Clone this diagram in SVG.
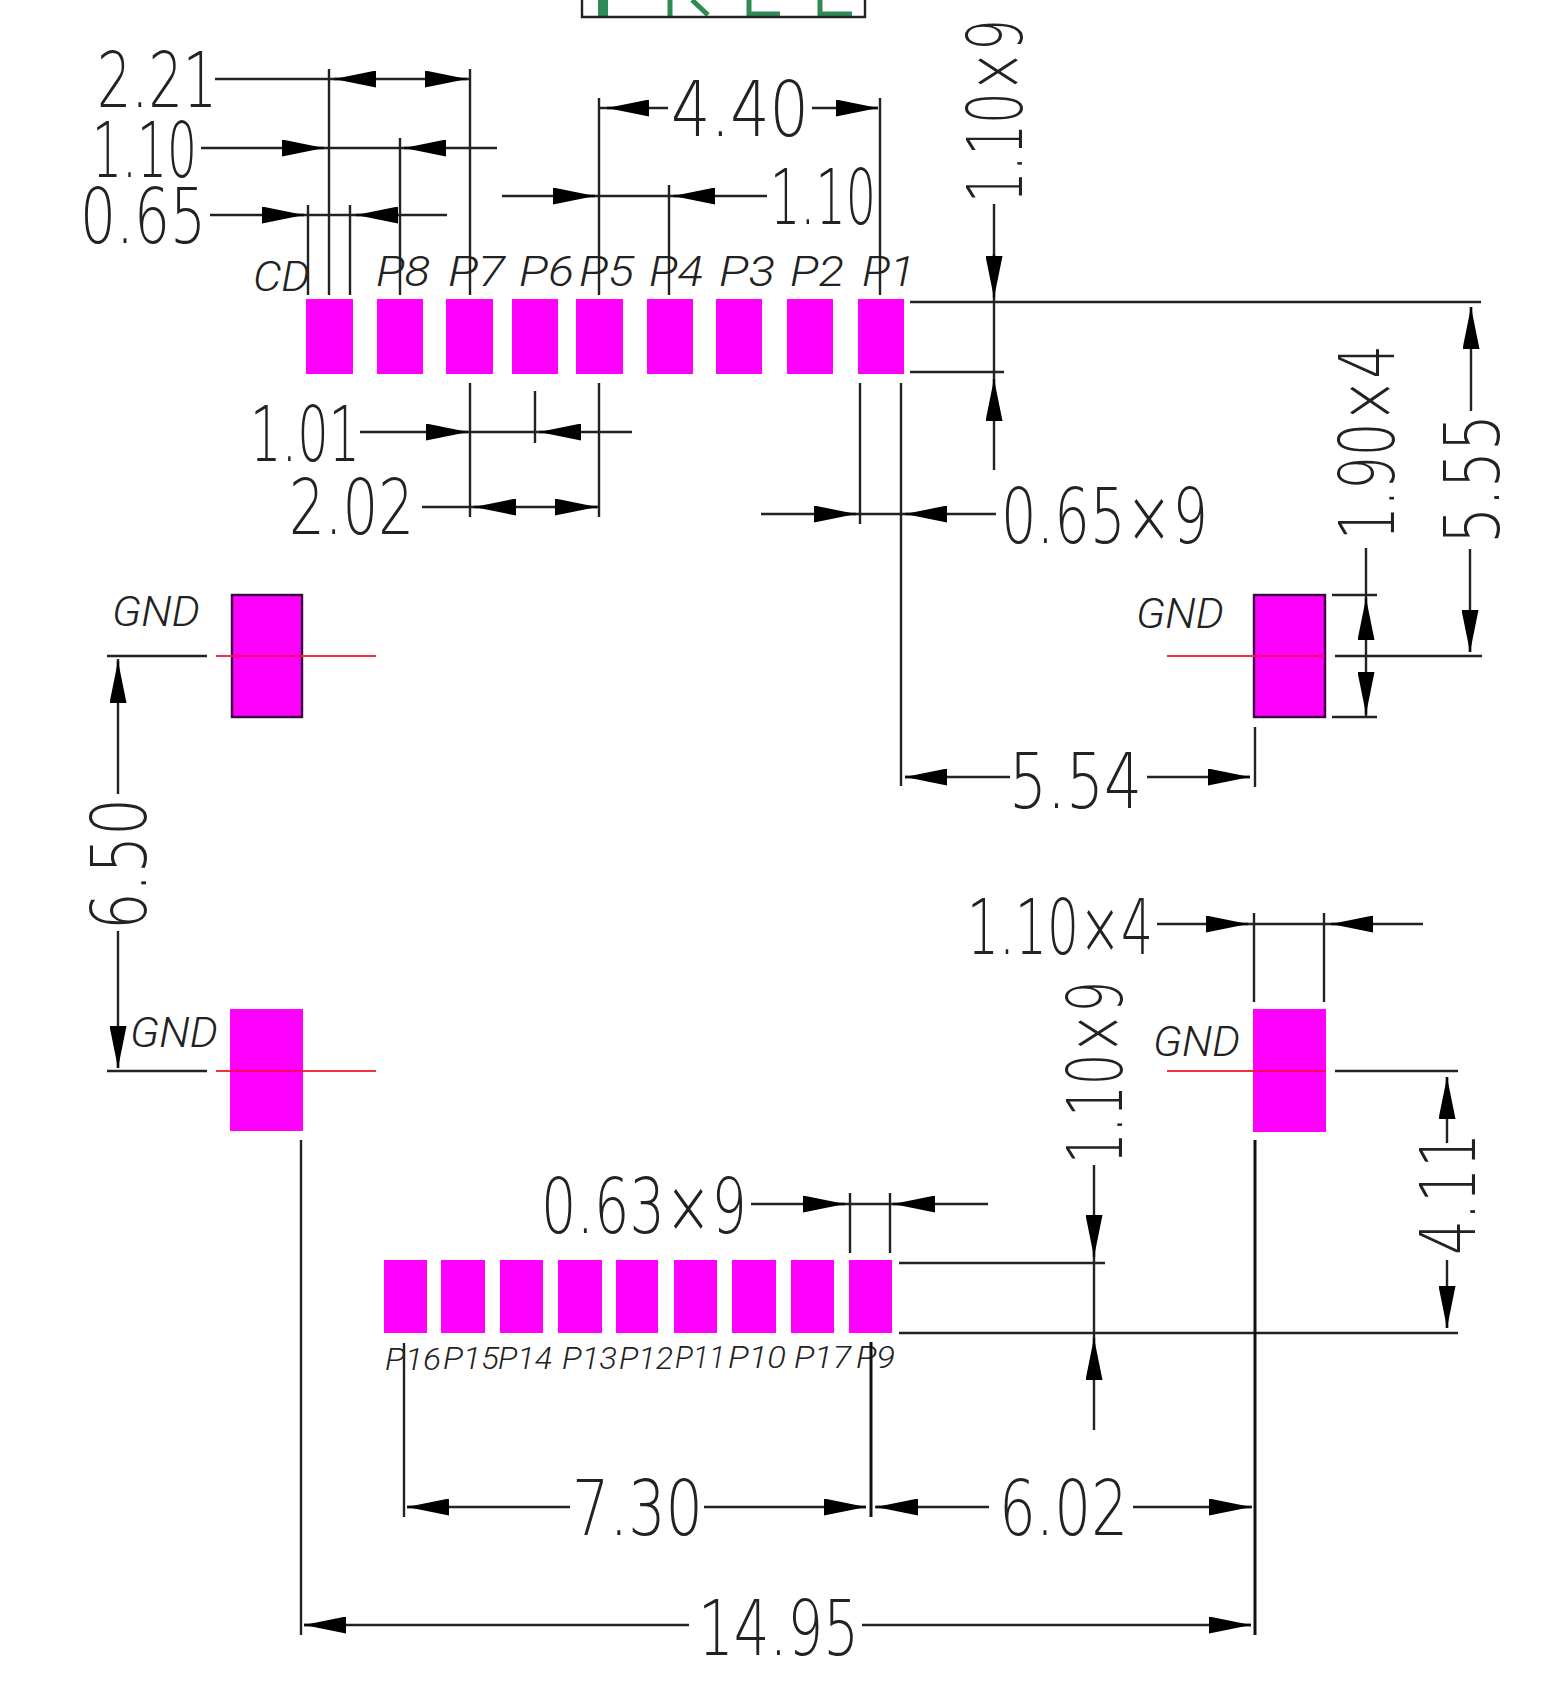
<svg xmlns="http://www.w3.org/2000/svg" width="1551" height="1689" viewBox="0 0 1551 1689">
<style>
.ln{stroke:#222;stroke-width:2.4;fill:none}
.lb{stroke:#111;stroke-width:3;fill:none}
.a{stroke:#111;stroke-width:2.4;marker-end:url(#ah)}
.red{stroke:#ee3040;stroke-width:2.2;fill:none}
.redp{stroke:#ff0066;stroke-width:2.2;fill:none}
.pad{fill:#ff00ff}
.padb{fill:#ff00ff;stroke:#3a0040;stroke-width:2.4}
.d{font-family:"DejaVu Sans",sans-serif;font-weight:200;font-size:77px;fill:#222}
.p{font-family:"Roboto","Liberation Sans",sans-serif;font-style:italic;font-weight:300;font-size:42px;fill:#222}
.q{font-family:"Roboto","Liberation Sans",sans-serif;font-style:italic;font-weight:300;font-size:31px;fill:#222}
.g{stroke:#2e8b57;fill:none}
</style>
<defs>
<marker id="ah" markerUnits="userSpaceOnUse" markerWidth="42" markerHeight="17" refX="42" refY="8.5" orient="auto"><path d="M0 0L42 8.5L0 17z" fill="#000"/></marker>
</defs>
<rect width="1551" height="1689" fill="#fff"/>
<g id="title-box">
<path class="g" stroke-width="10" d="M603 0V16"/>
<path class="g" stroke-width="5" d="M670 0V16M692 0L708 15"/>
<path class="g" stroke-width="5" d="M749 0V14H780"/>
<path class="g" stroke-width="5" d="M820 0V14H852"/>
<path class="ln" d="M582 0V17H865V0"/>
</g>
<g id="top-pads">
<g id="pad-CD"><rect class="pad" x="306" y="299" width="47" height="75"/><text class="p" x="253" y="291" textLength="57" lengthAdjust="spacingAndGlyphs">CD</text></g>
<g id="pad-P8"><rect class="pad" x="377" y="299" width="46" height="75"/><text class="p" x="376" y="286" textLength="54" lengthAdjust="spacingAndGlyphs">P8</text></g>
<g id="pad-P7"><rect class="pad" x="446" y="299" width="47" height="75"/><text class="p" x="448" y="286" textLength="57" lengthAdjust="spacingAndGlyphs">P7</text></g>
<g id="pad-P6"><rect class="pad" x="512" y="299" width="46" height="75"/><text class="p" x="519" y="286" textLength="55" lengthAdjust="spacingAndGlyphs">P6</text></g>
<g id="pad-P5"><rect class="pad" x="576" y="299" width="47" height="75"/><text class="p" x="579" y="286" textLength="55" lengthAdjust="spacingAndGlyphs">P5</text></g>
<g id="pad-P4"><rect class="pad" x="647" y="299" width="46" height="75"/><text class="p" x="649" y="286" textLength="54" lengthAdjust="spacingAndGlyphs">P4</text></g>
<g id="pad-P3"><rect class="pad" x="716" y="299" width="46" height="75"/><text class="p" x="719" y="286" textLength="56" lengthAdjust="spacingAndGlyphs">P3</text></g>
<g id="pad-P2"><rect class="pad" x="787" y="299" width="46" height="75"/><text class="p" x="790" y="286" textLength="54" lengthAdjust="spacingAndGlyphs">P2</text></g>
<g id="pad-P1"><rect class="pad" x="858" y="299" width="46" height="75"/><text class="p" x="862" y="286" textLength="53" lengthAdjust="spacingAndGlyphs">P1</text></g>
</g>
<g id="bottom-pads">
<g id="pad-P16"><rect class="pad" x="384" y="1260" width="43" height="73"/><text class="q" x="385" y="1370" textLength="56" lengthAdjust="spacingAndGlyphs">P16</text></g>
<g id="pad-P15"><rect class="pad" x="441" y="1260" width="44" height="73"/><text class="q" x="443" y="1369" textLength="56" lengthAdjust="spacingAndGlyphs">P15</text></g>
<g id="pad-P14"><rect class="pad" x="500" y="1260" width="43" height="73"/><text class="q" x="498" y="1369" textLength="54" lengthAdjust="spacingAndGlyphs">P14</text></g>
<g id="pad-P13"><rect class="pad" x="558" y="1260" width="44" height="73"/><text class="q" x="562" y="1369" textLength="55" lengthAdjust="spacingAndGlyphs">P13</text></g>
<g id="pad-P12"><rect class="pad" x="616" y="1260" width="42" height="73"/><text class="q" x="619" y="1369" textLength="54" lengthAdjust="spacingAndGlyphs">P12</text></g>
<g id="pad-P11"><rect class="pad" x="674" y="1260" width="43" height="73"/><text class="q" x="675" y="1368" textLength="50" lengthAdjust="spacingAndGlyphs">P11</text></g>
<g id="pad-P10"><rect class="pad" x="732" y="1260" width="44" height="73"/><text class="q" x="728" y="1368" textLength="58" lengthAdjust="spacingAndGlyphs">P10</text></g>
<g id="pad-P17"><rect class="pad" x="791" y="1260" width="43" height="73"/><text class="q" x="794" y="1368" textLength="57" lengthAdjust="spacingAndGlyphs">P17</text></g>
<g id="pad-P9"><rect class="pad" x="849" y="1260" width="43" height="73"/><text class="q" x="856" y="1368" textLength="39" lengthAdjust="spacingAndGlyphs">P9</text></g>
</g>
<g id="gnd-pads">
<g id="gnd-tl"><rect class="padb" x="232" y="595" width="70" height="122"/><path class="red" d="M216 656H376"/><path class="redp" d="M232 656H302"/><text class="p" x="112" y="626" textLength="88" lengthAdjust="spacingAndGlyphs">GND</text></g>
<g id="gnd-tr"><rect class="padb" x="1254" y="595" width="71" height="122"/><path class="red" d="M1167 656H1254"/><path class="redp" d="M1254 656H1325"/><text class="p" x="1136" y="628" textLength="88" lengthAdjust="spacingAndGlyphs">GND</text></g>
<g id="gnd-bl"><rect class="pad" x="230" y="1009" width="73" height="122"/><path class="red" d="M216 1071H376"/><path class="redp" d="M230 1071H303"/><text class="p" x="130" y="1047" textLength="88" lengthAdjust="spacingAndGlyphs">GND</text></g>
<g id="gnd-br"><rect class="pad" x="1253" y="1009" width="73" height="123"/><path class="red" d="M1167 1071H1253"/><path class="redp" d="M1253 1071H1326"/><text class="p" x="1153" y="1056" textLength="87" lengthAdjust="spacingAndGlyphs">GND</text></g>
</g>
<g id="connectors">
<path class="ln" d="M329 69V295M470 69V295M400 138V295M308 205V295M350 205V295M599 98V295M880 98V295M669 185V295"/>
<path class="ln" d="M215 79H470M201 148H497M210 215H447M502 196H767M600 108H668M812 108H878"/>
<line class="a" x1="376" y1="79" x2="334" y2="79"/><line class="a" x1="425" y1="79" x2="467" y2="79"/>
<line class="a" x1="282" y1="148" x2="324" y2="148"/><line class="a" x1="446" y1="148" x2="404" y2="148"/>
<line class="a" x1="262" y1="215" x2="304" y2="215"/><line class="a" x1="398" y1="215" x2="356" y2="215"/>
<line class="a" x1="553" y1="196" x2="595" y2="196"/><line class="a" x1="715" y1="196" x2="673" y2="196"/>
<line class="a" x1="649" y1="108" x2="607" y2="108"/><line class="a" x1="836" y1="108" x2="878" y2="108"/>
<path class="ln" d="M470 383V517M535 391V443M599 383V517M860 383V524M901 383V786"/>
<path class="ln" d="M360 432H632M422 507H599M761 514H996"/>
<line class="a" x1="426" y1="432" x2="468" y2="432"/><line class="a" x1="581" y1="432" x2="539" y2="432"/>
<line class="a" x1="516" y1="507" x2="474" y2="507"/><line class="a" x1="555" y1="507" x2="597" y2="507"/>
<line class="a" x1="814" y1="514" x2="856" y2="514"/><line class="a" x1="947" y1="514" x2="905" y2="514"/>
<path class="ln" d="M910 302H1481M910 372H1004M994 204V470"/>
<line class="a" x1="994" y1="254" x2="994" y2="298"/><line class="a" x1="994" y1="421" x2="994" y2="379"/>
<path class="ln" d="M1471 307V411M1470 549V652M1335 656H1482M1332 595H1377M1332 717H1377M1366 548V717"/>
<line class="a" x1="1471" y1="349" x2="1471" y2="307"/><line class="a" x1="1470" y1="610" x2="1470" y2="652"/>
<line class="a" x1="1366" y1="640" x2="1366" y2="598"/><line class="a" x1="1366" y1="672" x2="1366" y2="714"/>
<path class="ln" d="M1255 727V787M905 777H1010M1147 777H1250"/>
<line class="a" x1="947" y1="777" x2="905" y2="777"/><line class="a" x1="1208" y1="777" x2="1250" y2="777"/>
<path class="ln" d="M107 656H207M107 1071H207M118 659V794M118 931V1068"/>
<line class="a" x1="118" y1="703" x2="118" y2="661"/><line class="a" x1="118" y1="1026" x2="118" y2="1068"/>
<path class="ln" d="M1157 924H1423M1254 913V1002M1324 913V1002"/>
<line class="a" x1="1206" y1="924" x2="1248" y2="924"/><line class="a" x1="1373" y1="924" x2="1331" y2="924"/>
<path class="ln" d="M1335 1071H1458M899 1263H1105M899 1333H1458M1094 1165V1430M1447 1077V1143M1447 1260V1328"/>
<line class="a" x1="1094" y1="1215" x2="1094" y2="1257"/><line class="a" x1="1094" y1="1380" x2="1094" y2="1338"/>
<line class="a" x1="1447" y1="1119" x2="1447" y2="1077"/><line class="a" x1="1447" y1="1286" x2="1447" y2="1328"/>
<path class="ln" d="M751 1204H988M850 1193V1253M890 1193V1253"/>
<line class="a" x1="803" y1="1204" x2="845" y2="1204"/><line class="a" x1="935" y1="1204" x2="893" y2="1204"/>
<path class="ln" d="M404 1343V1517M407 1507H570M704 1507H866M875 1507H989M1133 1507H1252"/>
<path class="lb" d="M871 1342V1517"/>
<line class="a" x1="449" y1="1507" x2="407" y2="1507"/><line class="a" x1="824" y1="1507" x2="866" y2="1507"/>
<line class="a" x1="918" y1="1507" x2="876" y2="1507"/><line class="a" x1="1209" y1="1507" x2="1251" y2="1507"/>
<path class="ln" d="M301 1140V1635M304 1625H689M862 1625H1251"/>
<path class="lb" d="M1255 1140V1635"/>
<line class="a" x1="346" y1="1625" x2="304" y2="1625"/><line class="a" x1="1209" y1="1625" x2="1251" y2="1625"/>
</g>
<g id="dimension-labels">
<text class="d" x="97" y="107" textLength="120" lengthAdjust="spacingAndGlyphs">2.21</text>
<text class="d" x="92" y="177" textLength="105" lengthAdjust="spacingAndGlyphs">1.10</text>
<text class="d" x="80" y="243" textLength="126" lengthAdjust="spacingAndGlyphs">0.65</text>
<text class="d" x="671" y="136" textLength="138" lengthAdjust="spacingAndGlyphs">4.40</text>
<text class="d" x="770" y="224" textLength="106" lengthAdjust="spacingAndGlyphs">1.10</text>
<text class="d" x="250" y="461" textLength="110" lengthAdjust="spacingAndGlyphs">1.01</text>
<text class="d" x="289" y="534" textLength="125" lengthAdjust="spacingAndGlyphs">2.02</text>
<text class="d" x="1001" y="543" textLength="207" lengthAdjust="spacingAndGlyphs">0.65×9</text>
<text class="d" x="1009" y="808" textLength="133" lengthAdjust="spacingAndGlyphs">5.54</text>
<text class="d" x="967" y="954" textLength="186" lengthAdjust="spacingAndGlyphs">1.10×4</text>
<text class="d" x="541" y="1233" textLength="206" lengthAdjust="spacingAndGlyphs">0.63×9</text>
<text class="d" x="572" y="1535" textLength="131" lengthAdjust="spacingAndGlyphs">7.30</text>
<text class="d" x="999" y="1535" textLength="129" lengthAdjust="spacingAndGlyphs">6.02</text>
<text class="d" x="698" y="1655" textLength="161" lengthAdjust="spacingAndGlyphs">14.95</text>
<text class="d" transform="translate(1022,203) rotate(-90)" textLength="184" lengthAdjust="spacingAndGlyphs">1.10×9</text>
<text class="d" transform="translate(1394,540) rotate(-90)" textLength="195" lengthAdjust="spacingAndGlyphs">1.90×4</text>
<text class="d" transform="translate(1499,544) rotate(-90)" textLength="130" lengthAdjust="spacingAndGlyphs">5.55</text>
<text class="d" transform="translate(146,930) rotate(-90)" textLength="132" lengthAdjust="spacingAndGlyphs">6.50</text>
<text class="d" transform="translate(1122,1164) rotate(-90)" textLength="183" lengthAdjust="spacingAndGlyphs">1.10×9</text>
<text class="d" transform="translate(1475,1255) rotate(-90)" textLength="122" lengthAdjust="spacingAndGlyphs">4.11</text>
</g>
</svg>
